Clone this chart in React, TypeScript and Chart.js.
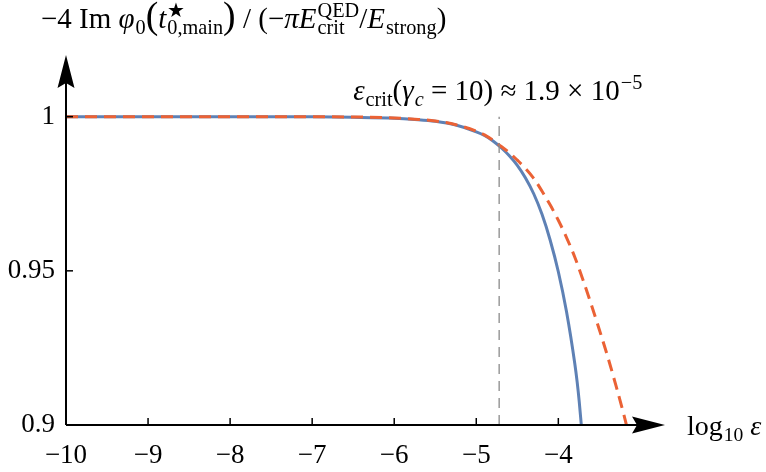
import React, { useEffect, useRef } from "react";
import { Chart, registerables } from "chart.js";
Chart.register(...registerables);

const xTicks = [-10, -9, -8, -7, -6, -5, -4];
const xTickLabels = ["\u221210", "\u22129", "\u22128", "\u22127", "\u22126", "\u22125", "\u22124"];
const yTicks = [0.9, 0.95, 1];
const yTickLabels = ["0.9", "0.95", "1"];

const blueX = [-10, -9, -8, -7, -6.5, -6, -5.75, -5.5, -5.25, -5, -4.9, -4.8, -4.7, -4.6, -4.5, -4.4, -4.3, -4.2, -4.1, -4, -3.9, -3.8, -3.77, -3.745, -3.72];
const blueY = [1, 1, 1, 0.99995, 0.9998, 0.9995, 0.9991, 0.9985, 0.9973, 0.9951, 0.9939, 0.9922, 0.99, 0.9874, 0.9842, 0.9801, 0.975, 0.9684, 0.96, 0.9497, 0.9367, 0.92, 0.9138, 0.9075, 0.9];
const orangeX = [-10, -9, -8, -7, -6.5, -6, -5.75, -5.5, -5.25, -5, -4.9, -4.8, -4.7, -4.6, -4.5, -4.4, -4.3, -4.2, -4.1, -4, -3.9, -3.8, -3.7, -3.6, -3.5, -3.4, -3.3, -3.2, -3.17];
const orangeY = [1, 1, 1, 0.99997, 0.9999, 0.9996, 0.9992, 0.9986, 0.9974, 0.9953, 0.9941, 0.9924, 0.9904, 0.9884, 0.9859, 0.9832, 0.98, 0.9759, 0.9714, 0.9664, 0.9608, 0.9545, 0.9471, 0.9392, 0.9309, 0.9223, 0.913, 0.9032, 0.9];
const critX = [-4.7212, -4.7212];
const critY = [0.9, 1.0];

const FAMILY = "'Liberation Serif', 'DejaVu Serif', serif";
const TICK_FS = 27;
const TXT_FS = 29;
const LBL_FS = 28;

type Run = { t: string; it?: boolean; sub?: string; sup?: string; subIt?: boolean; sc?: number };

const titleRuns: Run[] = [
  { t: "\u22124 Im " },
  { t: "\u03c6", it: true, sub: "0" },
  { t: "(", sc: 1.3 },
  { t: "t", it: true, sup: "\u2605", sub: "0,main" },
  { t: ")", sc: 1.3 },
  { t: " / (\u2212" },
  { t: "\u03c0", it: true },
  { t: "E", it: true, sup: "QED", sub: "crit" },
  { t: "/" },
  { t: "E", it: true, sub: "strong" },
  { t: ")" },
];
const critRuns: Run[] = [
  { t: "\u03b5", it: true, sub: "crit" },
  { t: "(" },
  { t: "\u03b3", it: true, sub: "c", subIt: true },
  { t: " = 10) \u2248 1.9 \u00d7 10", sup: "\u22125" },
];
const xLabelRuns: Run[] = [
  { t: "log", sub: "10" },
  { t: " " },
  { t: "\u03b5", it: true },
];

function drawRuns(ctx: CanvasRenderingContext2D, runs: Run[], x0: number, y: number, size: number) {
  let x = x0;
  ctx.fillStyle = "#000";
  ctx.textBaseline = "alphabetic";
  ctx.textAlign = "left";
  for (const r of runs) {
    const s = size * (r.sc ?? 1);
    ctx.font = `${r.it ? "italic " : ""}${s}px ${FAMILY}`;
    ctx.fillText(r.t, x, y);
    x += ctx.measureText(r.t).width;
    let w = 0;
    const ss = size * 0.7;
    if (r.sup) {
      ctx.font = `${ss}px ${FAMILY}`;
      ctx.fillText(r.sup, x + 1, y - size * 0.38);
      w = Math.max(w, ctx.measureText(r.sup).width + 1);
    }
    if (r.sub) {
      ctx.font = `${r.subIt ? "italic " : ""}${ss}px ${FAMILY}`;
      ctx.fillText(r.sub, x + 1, y + size * 0.22);
      w = Math.max(w, ctx.measureText(r.sub).width + 1);
    }
    x += w;
  }
}

const decoPlugin = {
  id: "deco",
  afterDraw(chart: any) {
    const { ctx, chartArea: a, scales } = chart;
    const xs = scales.x;
    const ys = scales.y;
    ctx.save();
    ctx.strokeStyle = "#000";
    ctx.fillStyle = "#000";
    const line = (x1: number, y1: number, x2: number, y2: number) => {
      ctx.beginPath();
      ctx.moveTo(x1, y1);
      ctx.lineTo(x2, y2);
      ctx.stroke();
    };
    ctx.lineWidth = 1.5;
    xTicks.forEach((v) => {
      const px = xs.getPixelForValue(v);
      line(px, a.bottom, px, a.bottom - 7);
    });
    yTicks.forEach((v) => {
      const py = ys.getPixelForValue(v);
      line(a.left, py, a.left + 7, py);
    });
    ctx.lineWidth = 2;
    line(a.left, a.bottom, a.right - 20, a.bottom);
    line(a.left, a.bottom, a.left, a.top + 20);
    ctx.beginPath();
    ctx.moveTo(a.right, a.bottom);
    ctx.lineTo(a.right - 33, a.bottom - 8.5);
    ctx.lineTo(a.right - 28, a.bottom);
    ctx.lineTo(a.right - 33, a.bottom + 8.5);
    ctx.closePath();
    ctx.fill();
    ctx.beginPath();
    ctx.moveTo(a.left, a.top);
    ctx.lineTo(a.left - 8.5, a.top + 33);
    ctx.lineTo(a.left, a.top + 28);
    ctx.lineTo(a.left + 8.5, a.top + 33);
    ctx.closePath();
    ctx.fill();

    drawRuns(ctx, titleRuns, a.left - 25, a.top - 27, TXT_FS);
    drawRuns(ctx, critRuns, xs.getPixelForValue(critX[0]) - 146, a.top + 45, TXT_FS);
    drawRuns(ctx, xLabelRuns, a.right + 22, a.bottom + 10, LBL_FS);
    ctx.restore();
  },
};

export default function App() {
  const ref = useRef<HTMLCanvasElement>(null);
  useEffect(() => {
    document.body.style.margin = "0";
    const c = ref.current!;
    const chart = new Chart(c, {
      type: "line",
      data: {
        datasets: [
          {
            data: critX.map((x, i) => ({ x, y: critY[i] })),
            borderColor: "#8a8a8a",
            borderWidth: 1.3,
            borderDash: [10, 7],
            pointRadius: 0,
            fill: false,
          },
          {
            data: orangeX.map((x, i) => ({ x, y: orangeY[i] })),
            borderColor: "#EB6235",
            borderWidth: 3,
            borderDash: [12, 7],
            pointRadius: 0,
            cubicInterpolationMode: "monotone",
            fill: false,
          },
          {
            data: blueX.map((x, i) => ({ x, y: blueY[i] })),
            borderColor: "#5E81B5",
            borderWidth: 3,
            pointRadius: 0,
            cubicInterpolationMode: "monotone",
            fill: false,
          },
        ],
      },
      options: {
        animation: false,
        responsive: false,
        events: [],
        layout: { padding: { top: 55, right: 101, left: 0, bottom: 0 } },
        plugins: { legend: { display: false }, tooltip: { enabled: false } },
        scales: {
          x: {
            type: "linear",
            min: -10,
            max: -2.7,
            grid: { display: false, drawTicks: false },
            border: { display: false },
            afterBuildTicks: (s: any) => {
              s.ticks = xTicks.map((v) => ({ value: v }));
            },
            afterFit: (s: any) => {
              s.height = 47;
            },
            ticks: {
              color: "#000",
              padding: 15,
              maxRotation: 0,
              autoSkip: false,
              font: { family: FAMILY, size: TICK_FS },
              callback: (v: any) => xTickLabels[xTicks.indexOf(Number(v))] ?? "",
            },
          },
          y: {
            type: "linear",
            min: 0.9,
            max: 1.02,
            grid: { display: false, drawTicks: false },
            border: { display: false },
            afterBuildTicks: (s: any) => {
              s.ticks = yTicks.map((v) => ({ value: v }));
            },
            afterFit: (s: any) => {
              s.width = 66;
            },
            ticks: {
              color: "#000",
              padding: 11,
              autoSkip: false,
              font: { family: FAMILY, size: TICK_FS },
              callback: (v: any) => yTickLabels[yTicks.findIndex((t) => Math.abs(t - Number(v)) < 1e-9)] ?? "",
            },
          },
        },
      },
      plugins: [decoPlugin],
    } as any);
    return () => chart.destroy();
  }, []);
  return (
    <div style={{ width: 766, height: 472, background: "#fff" }}>
      <canvas ref={ref} width={766} height={472} style={{ display: "block" }} />
    </div>
  );
}
